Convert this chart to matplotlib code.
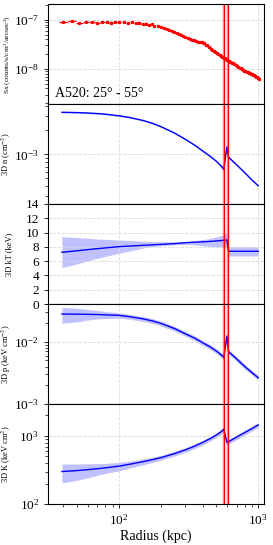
import matplotlib
matplotlib.use("Agg")
import matplotlib.pyplot as plt
import numpy as np

plt.rcParams['font.family'] = ['Liberation Serif', 'DejaVu Serif']
plt.rcParams['mathtext.fontset'] = 'stix'

# --- surface brightness profile (counts/s/cm^2/arcsec^2, in units of 1e-8)
sx_r = [40, 46, 52, 58, 64, 70, 76, 82, 88, 94, 100, 108, 116, 124, 132, 140, 148, 156,
        164, 172, 180, 190, 200, 210, 220, 230, 240, 250, 260, 270, 280, 290, 300, 312,
        324, 336, 348, 360, 372, 384, 396, 408, 420, 432, 444, 456, 468, 480, 492, 504,
        516, 528, 540, 552, 564, 576, 588, 600, 615, 630, 645, 660, 675, 690, 705, 720,
        735, 750, 765, 780, 795, 810, 825, 840, 855, 870, 885, 900, 915, 930, 945, 960,
        975, 990, 1005]
sx_val = [8.9, 9.3, 8.6, 9.1, 9.0, 8.5, 9.2, 9.0, 8.8, 9.1, 9.0, 9.2, 8.7, 8.9, 8.6, 8.8,
          8.3, 8.4, 8.0, 8.2, 7.6, 7.4, 7.1, 6.9, 6.5, 6.3, 5.9, 5.7, 5.4, 5.1, 4.9, 4.7,
          4.5, 4.2, 4.1, 3.9, 3.8, 3.7, 3.6, 3.5, 3.45, 3.3, 3.1, 3.0, 2.8, 2.6, 2.45, 2.3,
          2.2, 2.1, 2.0, 1.9, 1.85, 1.75, 1.68, 1.65, 1.6, 1.52, 1.45, 1.40, 1.35, 1.3,
          1.25, 1.18, 1.15, 1.1, 1.05, 1.03, 0.98, 0.95, 0.92, 0.90, 0.88, 0.86, 0.83,
          0.82, 0.80, 0.78, 0.76, 0.74, 0.72, 0.70, 0.68, 0.66, 0.63]
sx_bin = 3.0        # half bin width (kpc)
sx_relerr = 0.05    # relative error

# --- 3D model profiles (density, pressure, entropy share radii)
mod_r = [39, 50, 60, 70, 80, 100, 120, 150, 175, 200, 250, 300, 350, 400, 450, 500,
         540, 565, 596, 612, 700, 800, 900, 1000]
n_val = [3.35, 3.32, 3.28, 3.23, 3.17, 3.03, 2.88, 2.64, 2.43, 2.22, 1.85, 1.54, 1.30,
         1.10, 0.95, 0.82, 0.72, 0.65, 1.24, 0.92, 0.74, 0.59, 0.48, 0.405]  # 1e-3 cm^-3
n_frac = [0.02, 0.02, 0.02, 0.02, 0.02, 0.02, 0.02, 0.02, 0.02, 0.02, 0.02, 0.02, 0.02,
          0.02, 0.02, 0.02, 0.04, 0.07, 0.03, 0.03, 0.025, 0.025, 0.025, 0.025]

p_val = [0.0278, 0.0277, 0.0275, 0.0273, 0.0270, 0.0265, 0.0252, 0.0232, 0.0215, 0.0197,
         0.0163, 0.0134, 0.0114, 0.0096, 0.0083, 0.0071, 0.0062, 0.0056, 0.0123, 0.0069,
         0.0053, 0.0040, 0.0032, 0.00264]
p_lo_frac = [0.29, 0.25, 0.19, 0.15, 0.13, 0.10, 0.09, 0.09, 0.09, 0.09, 0.09, 0.09,
             0.09, 0.09, 0.09, 0.09, 0.09, 0.09, 0.09, 0.09, 0.09, 0.09, 0.09, 0.09]
p_hi_frac = [0.28, 0.24, 0.20, 0.16, 0.13, 0.10, 0.09, 0.09, 0.09, 0.09, 0.09, 0.09,
             0.09, 0.09, 0.09, 0.09, 0.09, 0.09, 0.09, 0.09, 0.09, 0.09, 0.09, 0.09]

k_val = [300, 310, 320, 330, 340, 360, 385, 420, 450, 480, 550, 625, 710, 805, 910, 1030,
         1150, 1254, 800, 824, 963, 1122, 1285, 1452]
k_lo_frac = [0.32, 0.28, 0.24, 0.20, 0.17, 0.15, 0.12, 0.10, 0.09, 0.08, 0.08, 0.08,
             0.08, 0.08, 0.08, 0.08, 0.08, 0.08, 0.08, 0.08, 0.08, 0.08, 0.08, 0.08]
k_hi_frac = [0.29, 0.25, 0.22, 0.19, 0.16, 0.14, 0.11, 0.10, 0.09, 0.08, 0.08, 0.08,
             0.08, 0.08, 0.08, 0.08, 0.08, 0.08, 0.08, 0.08, 0.08, 0.08, 0.08, 0.08]

# temperature
kt_r = [39, 50, 70, 100, 167, 250, 306, 427, 520, 596, 612, 1000]
kt_val = [7.24, 7.45, 7.75, 8.03, 8.26, 8.45, 8.59, 8.73, 8.85, 8.96, 7.38, 7.38]
kt_lo = [5.09, 5.6, 6.4, 7.1, 8.03, 8.3, 8.36, 8.1, 7.98, 7.89, 6.72, 6.72]
kt_hi = [9.43, 9.3, 9.1, 8.96, 8.75, 8.70, 8.73, 9.1, 9.45, 9.9, 8.03, 8.03]

shock_r = [569, 605]

fig, axes = plt.subplots(5, 1, sharex=True, figsize=(2.73, 5.45), dpi=100)
fig.subplots_adjust(left=0.176, right=0.967, top=0.9927, bottom=0.0752, hspace=0)

grid_kw = dict(color='#d8d8d8', linestyle='--', linewidth=0.6)
band_c = '#9999ff'

# Sx
ax = axes[0]
sx = np.array(sx_val) * 1e-8
ax.errorbar(sx_r, sx, xerr=sx_bin, yerr=sx * sx_relerr, fmt='s', color='red',
            ms=1.3, elinewidth=0.9, capsize=0)
ax.set_yscale('log')
ax.set_ylim(1.93e-9, 2.1e-7)
ax.set_ylabel('Sx (counts/s/cm$^2$/arcsec$^2$)', fontsize=5.4)
ax.text(0.032, 0.07, 'A520: 25° - 55°', transform=ax.transAxes, fontsize=10)

# n
ax = axes[1]
n = np.array(n_val) * 1e-3
nf = np.array(n_frac)
ax.fill_between(mod_r, n * (1 - nf), n * (1 + nf), color=band_c, alpha=0.6, lw=0)
ax.plot(mod_r, n, color='blue', lw=1)
ax.set_yscale('log')
ax.set_ylim(2.4e-4, 4.25e-3)
ax.set_ylabel('3D n (cm$^{-3}$)', fontsize=6)

# kT
ax = axes[2]
ax.fill_between(kt_r, kt_lo, kt_hi, color=band_c, alpha=0.6, lw=0)
ax.plot(kt_r, kt_val, color='blue', lw=1)
ax.set_ylim(0, 14)
ax.set_yticks(range(0, 15, 2))
ax.set_ylabel('3D kT (keV)', fontsize=6)

# p
ax = axes[3]
p = np.array(p_val)
ax.fill_between(mod_r, p * (1 - np.array(p_lo_frac)), p * (1 + np.array(p_hi_frac)),
                color=band_c, alpha=0.6, lw=0)
ax.plot(mod_r, p, color='blue', lw=1)
ax.set_yscale('log')
ax.set_ylim(1e-3, 0.0403)
ax.set_ylabel('3D p (keV cm$^{-3}$)', fontsize=6)

# K
ax = axes[4]
k = np.array(k_val)
ax.fill_between(mod_r, k * (1 - np.array(k_lo_frac)), k * (1 + np.array(k_hi_frac)),
                color=band_c, alpha=0.6, lw=0)
ax.plot(mod_r, k, color='blue', lw=1)
ax.set_yscale('log')
ax.set_ylim(100, 2950)
ax.set_ylabel('3D K (keV cm$^2$)', fontsize=6)

for ax in axes:
    ax.set_xscale('log')
    ax.set_xlim(31, 1100)
    ax.grid(True, which='major', **grid_kw)
    ax.tick_params(labelsize=9.5, length=3, width=0.6)
    ax.tick_params(which='minor', length=2, width=0.5)
    ax.yaxis.set_label_coords(-0.16, 0.5)
    for s in ax.spines.values():
        s.set_linewidth(0.8)
    for xr in shock_r:
        ax.axvline(xr, color='red', lw=1.7, alpha=0.45)
        ax.axvline(xr, color='red', lw=0.8)
axes[0].yaxis.set_label_coords(-0.164, 0.5)

axes[4].set_xlabel('Radius (kpc)', fontsize=10, labelpad=1)

fig.savefig('out.png', dpi=100)
